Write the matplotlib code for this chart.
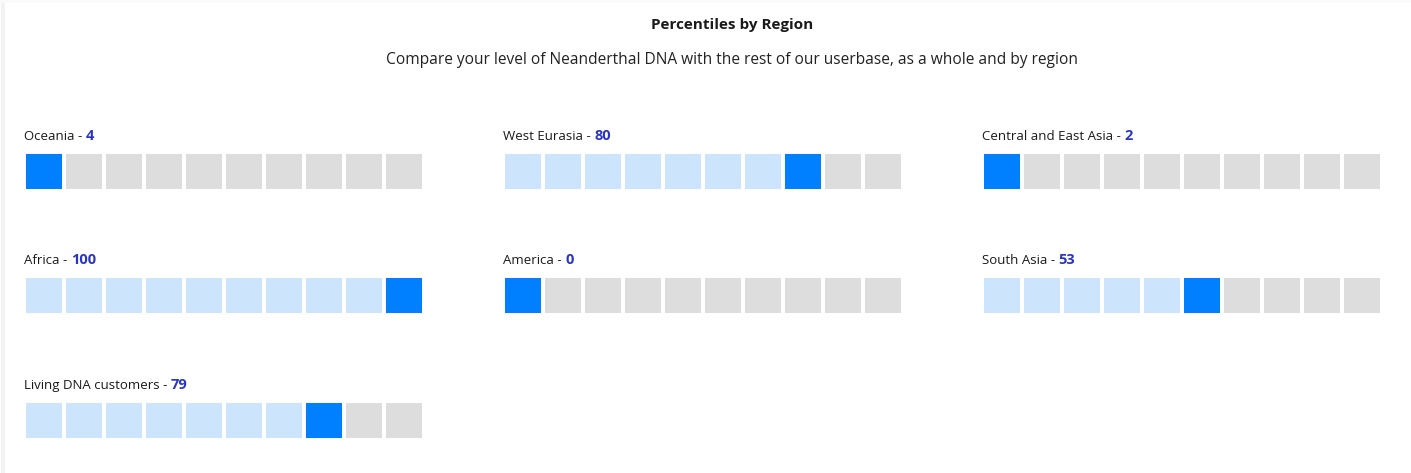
import matplotlib.pyplot as plt
import numpy as np

regions = ["Oceania", "West Eurasia", "Central and East Asia",
           "Africa", "America", "South Asia", "Living DNA customers"]
percentiles = [4, 80, 2, 100, 0, 53, 79]

title = "Percentiles by Region"
subtitle = "Compare your level of Neanderthal DNA with the rest of our userbase, as a whole and by region"

BLUE = "#0080ff"
LIGHT = "#cce4fc"
GREY = "#dddddd"
NUM = "#2b35c4"
plt.rcParams['font.family'] = ['Open Sans', 'DejaVu Sans']

W, H = 1411, 473
fig = plt.figure(figsize=(W / 100, H / 100), dpi=100)
ax = fig.add_axes([0, 0, 1, 1])
ax.set_xlim(0, W)
ax.set_ylim(H, 0)
ax.axis("off")

# faint card edge
ax.axvline(3, color="#f3f3f3", lw=3)
ax.axhline(1, color="#fafafa", lw=2)

ax.text(W / 2 + 27, 25, title, ha="center", va="center", fontsize=11,
        fontweight="bold", color="#1a1a1a")
ax.text(W / 2 + 27, 60, subtitle, ha="center", va="center", fontsize=11.2,
        color="#222222")

col_x = [26, 505, 984]
row_y = [154, 278, 403]
pitch, size_w, size_h = 40, 36, 35

fig.canvas.draw()
for i, (name, p) in enumerate(zip(regions, percentiles)):
    x0 = col_x[i % 3]
    y0 = row_y[i // 3]
    active = max(int(np.ceil(p / 10)) - 1, 0)
    idx = np.arange(10)
    colors = [LIGHT if k < active else BLUE if k == active else GREY for k in idx]
    ax.bar(x0 + idx * pitch, size_h, width=size_w, bottom=y0, align="edge",
           color=colors, linewidth=0)
    lbl = ax.text(x0 - 2, y0 - 14, name + " - ", ha="left", va="baseline",
                  fontsize=9.5, color="#1a1a1a")
    ax.annotate(str(p), xy=(1, 0), xycoords=lbl, ha="left", va="bottom",
                fontsize=10.5, fontweight="bold", color=NUM)

fig.savefig("out.png", dpi=100, facecolor="white")
